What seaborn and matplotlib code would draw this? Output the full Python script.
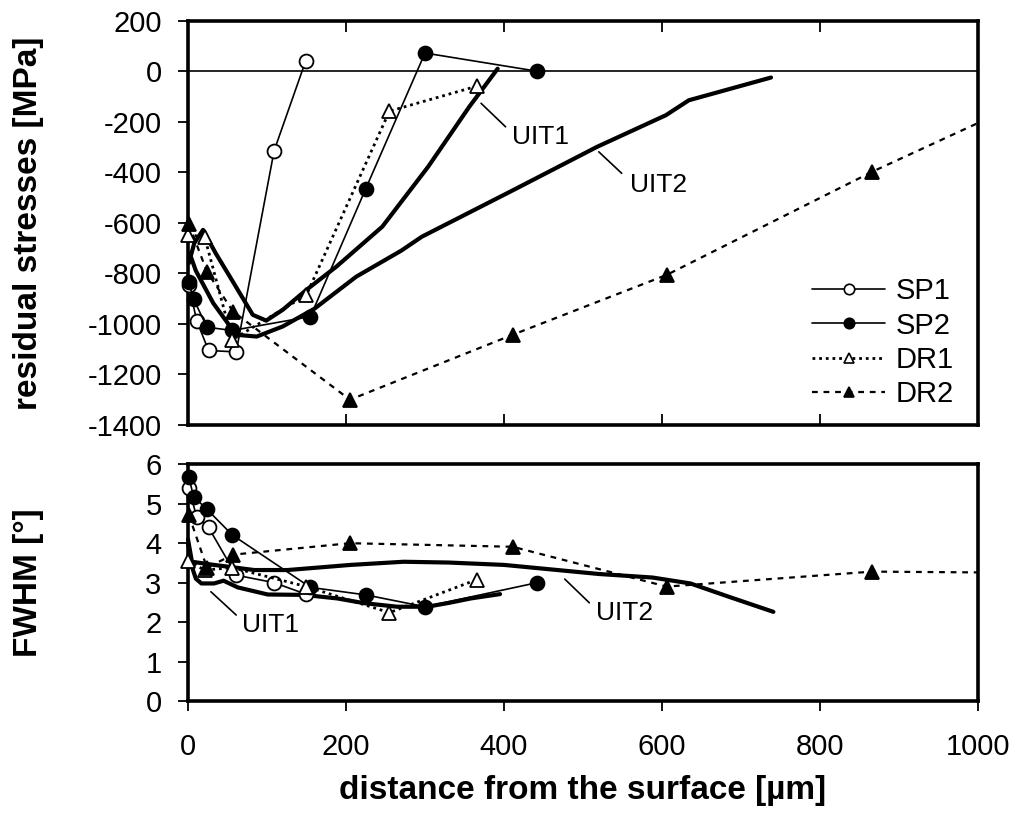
import matplotlib
matplotlib.use("Agg")
import matplotlib.pyplot as plt
import seaborn as sns
from matplotlib.lines import Line2D

# residual stress / FWHM profiles vs depth
sp1_x = [1, 11, 26, 61, 109, 149]
sp1_rs = [-845, -987, -1105, -1111, -315, 41]
sp1_fwhm = [5.39, 4.67, 4.40, 3.19, 3.00, 2.71]

sp2_x = [1, 7, 24, 56, 155, 225, 300, 442]
sp2_rs = [-836, -901, -1013, -1026, -971, -465, 72, 0]
sp2_fwhm = [5.69, 5.18, 4.86, 4.21, 2.88, 2.69, 2.39, 3.00]

dr1_x = [0, 21, 56, 150, 255, 366]
dr1_rs = [-648, -655, -1063, -885, -158, -59]
dr1_fwhm = [3.55, 3.32, 3.38, 2.90, 2.24, 3.08]

# last DR2 point runs on past the right border (no marker shown)
dr2_x = [1, 24, 57, 205, 411, 606, 866, 1000]
dr2_rs = [-604, -793, -951, -1300, -1043, -806, -398, -205]
dr2_fwhm = [4.72, 3.38, 3.71, 4.00, 3.91, 2.90, 3.28, 3.26]

uit1_rs_x = [1, 8, 19, 35, 53, 82, 99, 120, 150, 188, 246, 304, 356, 392]
uit1_rs = [-760, -680, -628, -720, -813, -964, -987, -944, -865, -773, -615, -378, -141, 10]
uit1_fw_x = [0, 5, 10, 17, 33, 45, 63, 101, 147, 189, 223, 265, 303, 331, 358, 395]
uit1_fw = [4.0, 3.4, 3.1, 2.98, 2.98, 3.05, 2.88, 2.70, 2.69, 2.60, 2.48, 2.39, 2.39, 2.49, 2.60, 2.71]

uit2_rs_x = [2, 10, 32, 61, 87, 120, 160, 213, 270, 296, 412, 518, 605, 634, 738]
uit2_rs = [-720, -790, -918, -1043, -1050, -1010, -940, -813, -710, -655, -470, -299, -174, -115, -25]
uit2_fw_x = [0, 5, 33, 84, 126, 206, 273, 330, 400, 520, 588, 636, 685, 741]
uit2_fw = [4.1, 3.53, 3.45, 3.32, 3.32, 3.45, 3.53, 3.51, 3.45, 3.22, 3.13, 2.98, 2.64, 2.26]

sns.set_theme(style="white")
plt.rcParams["font.family"] = ["Liberation Sans", "DejaVu Sans"]
plt.rcParams["axes.unicode_minus"] = False
for key in ["text.color", "axes.labelcolor", "xtick.color", "ytick.color"]:
    plt.rcParams[key] = "black"

TICK_FS = 21
LAB_FS = 24
NOTE_FS = 19

styles = {
    "SP1": dict(lw=1.2, ls="-", marker="o", ms=10, mfc="white"),
    "SP2": dict(lw=1.2, ls="-", marker="o", ms=10, mfc="black"),
    "DR1": dict(lw=2.0, ls=(0, (1.0, 1.4)), marker="^", ms=10, mfc="white"),
    "DR2": dict(lw=1.6, ls=(0, (2.6, 2.6)), marker="^", ms=10, mfc="black"),
}


def draw(ax, x, y, name, markevery=None):
    st = styles[name]
    sns.lineplot(x=x, y=y, ax=ax, sort=False, estimator=None, color="black",
                 linewidth=st["lw"], linestyle=st["ls"], marker=st["marker"],
                 markersize=st["ms"], markerfacecolor=st["mfc"],
                 markeredgecolor="black", markeredgewidth=1.3,
                 markevery=markevery, clip_on=False, zorder=4)


def thick(ax, x, y):
    sns.lineplot(x=x, y=y, ax=ax, sort=False, estimator=None, color="black",
                 linewidth=3.0, clip_on=False, zorder=3)


def label(ax, text, start, end, pos):
    # leader line from the curve down to the label, then the label itself
    ax.annotate("", xy=start, xytext=end,
                arrowprops=dict(arrowstyle="-", color="black", lw=1.2,
                                shrinkA=0, shrinkB=0))
    ax.text(pos[0], pos[1], text, fontsize=NOTE_FS, va="center", ha="left")


fig = plt.figure(figsize=(10.2, 8.14), dpi=100)
ax1 = fig.add_axes([0.1843, 0.4779, 0.7745, 0.4967])
ax2 = fig.add_axes([0.1843, 0.1388, 0.7745, 0.2908])

# --- top: residual stresses ---
ax1.axhline(0, color="black", lw=1.2, zorder=2)
thick(ax1, uit1_rs_x, uit1_rs)
thick(ax1, uit2_rs_x, uit2_rs)
draw(ax1, sp1_x, sp1_rs, "SP1")
draw(ax1, sp2_x, sp2_rs, "SP2")
draw(ax1, dr1_x, dr1_rs, "DR1")
draw(ax1, dr2_x, dr2_rs, "DR2", markevery=list(range(len(dr2_x) - 1)))

ax1.set_xlim(0, 1000)
ax1.set_ylim(-1400, 200)
ax1.set_yticks(range(-1400, 201, 200))
ax1.set_xticks([200, 400, 600, 800])
ax1.tick_params(axis="x", direction="in", top=True, bottom=True,
                labelbottom=False, length=8, width=1.3)
ax1.tick_params(axis="y", direction="out", left=True, length=7, width=1.3,
                labelsize=TICK_FS, pad=12)
ax1.set_xlabel("")
ax1.set_ylabel("residual stresses [MPa]", fontsize=LAB_FS, fontweight="bold")
ax1.yaxis.set_label_coords(-0.182, 0.5)

label(ax1, "UIT1", (371, -127), (402, -220), (410, -262))
label(ax1, "UIT2", (520, -319), (549, -404), (559, -452))

handles = []
for name in ["SP1", "SP2", "DR1", "DR2"]:
    st = styles[name]
    handles.append(Line2D([], [], color="black", lw=st["lw"], ls=st["ls"],
                          marker=st["marker"], ms=7.5, mfc=st["mfc"],
                          mec="black", mew=1.2))
ax1.legend(handles, ["SP1", "SP2", "DR1", "DR2"], loc="lower right",
           bbox_to_anchor=(0.984, 0.012), frameon=False, fontsize=TICK_FS,
           handlelength=2.5, handletextpad=0.35, labelspacing=0.22,
           borderaxespad=0)

# --- bottom: FWHM ---
thick(ax2, uit1_fw_x, uit1_fw)
thick(ax2, uit2_fw_x, uit2_fw)
draw(ax2, sp1_x, sp1_fwhm, "SP1")
draw(ax2, sp2_x, sp2_fwhm, "SP2")
draw(ax2, dr1_x, dr1_fwhm, "DR1")
draw(ax2, dr2_x, dr2_fwhm, "DR2", markevery=list(range(len(dr2_x) - 1)))

ax2.set_xlim(0, 1000)
ax2.set_ylim(0, 6)
ax2.set_yticks(range(0, 7))
ax2.set_xticks(range(0, 1001, 200))
ax2.tick_params(axis="y", direction="out", length=7, width=1.3,
                labelsize=TICK_FS, left=True, pad=12)
ax2.tick_params(axis="x", direction="out", length=7, width=1.3,
                labelsize=TICK_FS, bottom=True, pad=16)
ax2.set_ylabel("FWHM [°]", fontsize=LAB_FS, fontweight="bold")
ax2.yaxis.set_label_coords(-0.182, 0.5)
ax2.set_xlabel("distance from the surface [µm]", fontsize=LAB_FS,
               fontweight="bold", labelpad=10)

label(ax2, "UIT1", (29, 2.77), (61, 2.18), (69, 1.93))
label(ax2, "UIT2", (477, 3.09), (508, 2.49), (516, 2.23))

for ax in (ax1, ax2):
    for sp in ax.spines.values():
        sp.set_color("black")
        sp.set_linewidth(2.6)
        sp.set_visible(True)
    ax.set_facecolor("white")

fig.savefig("out.png", dpi=100, facecolor="white")
